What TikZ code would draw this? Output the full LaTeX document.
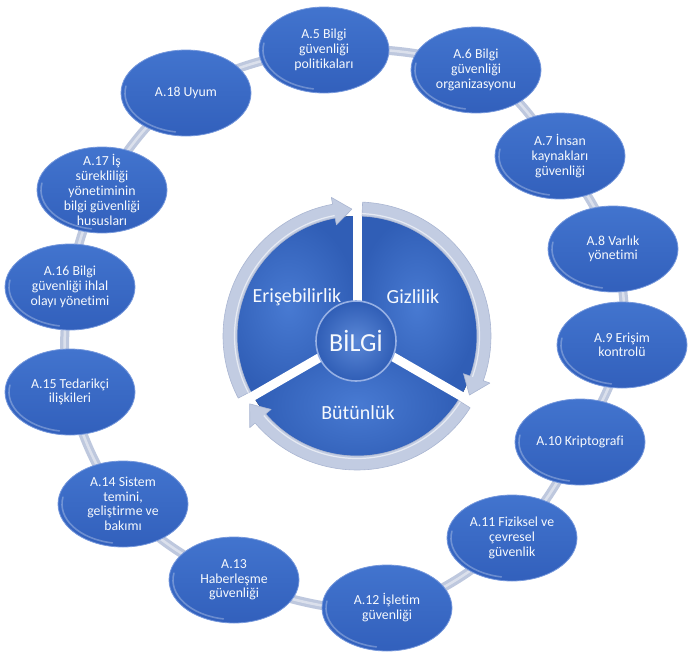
\documentclass[tikz,border=0pt]{standalone}
\usepackage{fontspec}
\setmainfont{Carlito}[Ligatures={CommonOff}]
\usetikzlibrary{shapes.geometric,backgrounds}
\definecolor{ringc}{RGB}{190,200,222}
\definecolor{elltop}{RGB}{66,116,206}
\definecolor{ellbot}{RGB}{50,96,188}
\definecolor{ellrim}{RGB}{118,152,220}
\definecolor{txtc}{RGB}{246,249,253}
\definecolor{secin}{RGB}{72,122,210}
\definecolor{secout}{RGB}{48,94,182}
\definecolor{bandc}{RGB}{194,204,226}
\definecolor{bandrim}{RGB}{170,182,210}
\newcommand\elltext[1]{\makebox[0pt]{\raisebox{-0.25em}[0pt][0pt]{\parbox[c]{126pt}{\centering #1}}}}
\begin{document}
\begin{tikzpicture}[x=1pt,y=-1pt,
  ell/.style={ellipse, minimum width=130pt, minimum height=86pt, inner sep=0pt,
    top color=elltop, bottom color=ellbot, draw=ellrim, line width=0.8pt,
    text=txtc, font=\fontsize{13.8}{14.8}\selectfont,
    path picture={\draw[white, opacity=0.28, line width=1.6pt, line cap=round]
      (path picture bounding box.center) ++(100:61 and 39.5)
      arc[start angle=100, end angle=190, x radius=61, y radius=39.5];}},
  ring/.style={draw=ringc, line width=9pt},
  ringhl/.style={draw=white, opacity=0.45, line width=2.5pt},
  sector/.style={inner color=secin, outer color=secout},
  gap/.style={draw=white, line width=9pt},
  band/.style={fill=bandc, draw=bandrim, line width=0.6pt, line join=round},
  pietxt/.style={text=txtc, font=\fontsize{20}{24}\selectfont, inner sep=0pt},
  hub/.style={circle, minimum size=80pt, inner sep=0pt, inner color=secin!90!white,
    outer color=secout, draw={rgb,255:red,150;green,176;blue,228}, line width=1.6pt,
    text=txtc, font=\fontsize{26}{30}\selectfont}]
\useasboundingbox (0,0) rectangle (694,656);

% ---- outer ellipses ----
\node[ell] (a5)  at (324,50)  {\elltext{A.5 Bilgi\\güvenliği\\politikaları}};
\node[ell] (a6)  at (476,70)  {\elltext{A.6 Bilgi\\güvenliği\\organizasyonu}};
\node[ell] (a7)  at (560,156) {\elltext{A.7 İnsan\\kaynakları\\güvenliği}};
\node[ell] (a8)  at (613,249) {\elltext{A.8 Varlık\\yönetimi}};
\node[ell] (a9)  at (622,345) {\elltext{A.9 Erişim\\kontrolü}};
\node[ell] (a10) at (580,442) {\elltext{A.10 Kriptografi}};
\node[ell] (a11) at (512,538) {\elltext{A.11 Fiziksel ve\\çevresel\\güvenlik}};
\node[ell] (a12) at (387,608) {\elltext{A.12 İşletim\\güvenliği}};
\node[ell] (a13) at (234,580) {\elltext{A.13\\Haberleşme\\güvenliği}};
\node[ell] (a14) at (123,504) {\elltext{A.14 Sistem\\temini,\\geliştirme ve\\bakımı}};
\node[ell] (a15) at (70,392)  {\elltext{A.15 Tedarikçi\\ilişkileri}};
\node[ell] (a16) at (70,287)  {\elltext{A.16 Bilgi\\güvenliği ihlal\\olayı yönetimi}};
\node[ell] (a17) at (102,190) {\elltext{A.17 İş\\sürekliliği\\yönetiminin\\bilgi güvenliği\\hususları}};
\node[ell] (a18) at (186,93)  {\elltext{A.18 Uyum}};

% ---- ring behind the ellipses ----
\begin{scope}[on background layer]
\draw[ring] plot[smooth cycle, tension=0.6] coordinates {(a5.center) (a6.center) (a7.center) (a8.center) (a9.center) (a10.center) (a11.center) (a12.center) (a13.center) (a14.center) (a15.center) (a16.center) (a17.center) (a18.center)};
\draw[ringhl] plot[smooth cycle, tension=0.6] coordinates {(a5.center) (a6.center) (a7.center) (a8.center) (a9.center) (a10.center) (a11.center) (a12.center) (a13.center) (a14.center) (a15.center) (a16.center) (a17.center) (a18.center)};
\end{scope}

% ---- central cycle ----
\begin{scope}[shift={(357,336)}, yscale=-1]
  \def\Ra{120}\def\Rb{134}\def\Rm{127}\def\Ri{113}\def\Ro{141}
  % blue sectors
  \foreach \s/\e in {90/-30, -30/-150, 210/90}{
    \fill[sector] (0,0) -- (\s:\Ra) arc[start angle=\s, end angle=\e, radius=\Ra] -- cycle;
  }
  % white gaps
  \foreach \a in {90,-30,210}{
    \draw[gap] (0,0) -- (\a:150);
  }
  % arrow bands
  \foreach \s/\e in {90/-30, -30/-150, 210/90}{
    \pgfmathsetmacro\sa{\s-2.4}
    \pgfmathsetmacro\eb{\e+10.5}
    \pgfmathsetmacro\et{\e+2.3}
    \filldraw[band] (\sa:\Ra) arc[start angle=\sa, end angle=\eb, radius=\Ra]
      -- (\eb:\Ri) -- (\et:\Rm) -- (\eb:\Ro) -- (\eb:\Rb)
      arc[start angle=\eb, end angle=\sa, radius=\Rb] -- cycle;
    \draw[white, opacity=0.6, line width=1.2pt] (\sa:\Ra+2.5) arc[start angle=\sa, end angle=\eb, radius=\Ra+2.5];
  }
\end{scope}

\node[hub] (bilgi) at (356,341) {BİLGİ};
\node[pietxt] (eri) at (297,297) {Erişebilirlik};
\node[pietxt] (giz) at (413,297) {Gizlilik};
\node[pietxt] (but) at (358,413) {Bütünlük};
\end{tikzpicture}
\end{document}
